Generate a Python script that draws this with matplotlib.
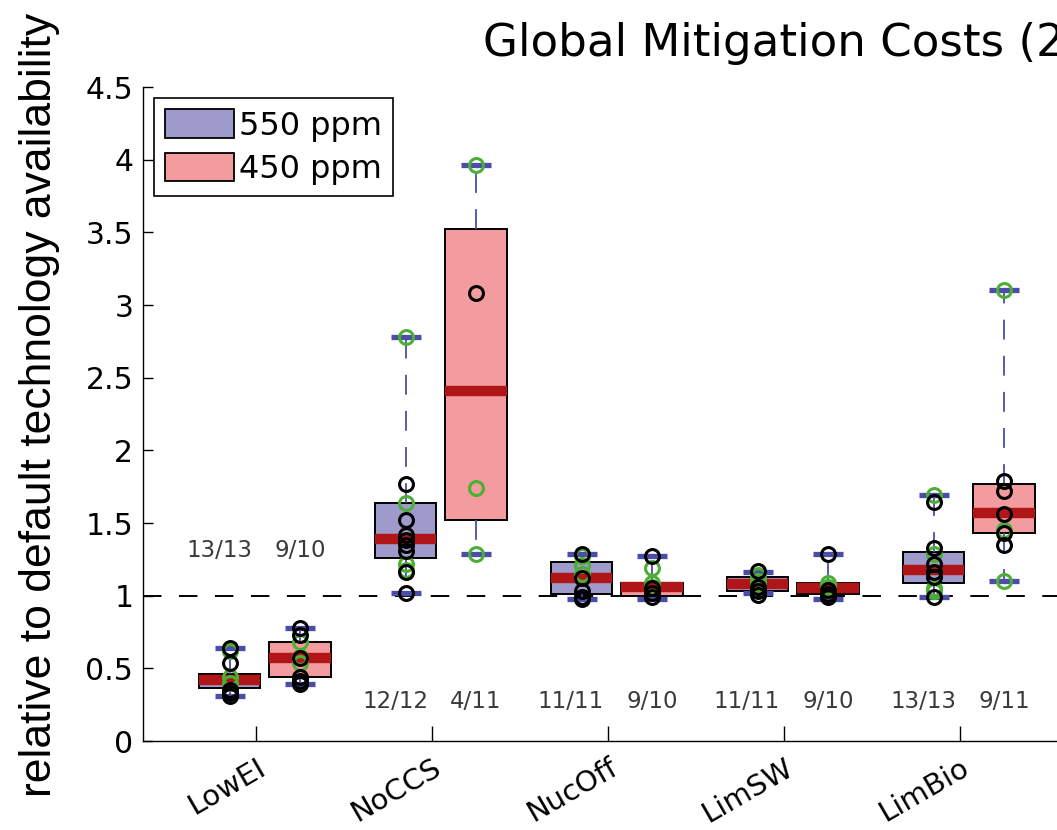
import matplotlib
matplotlib.use('Agg')
import numpy as np
import matplotlib.pyplot as plt
from matplotlib.patches import Patch

# categorias e estatisticas das caixas
cenarios = ['LowEI', 'NoCCS', 'NucOff', 'LimSW', 'LimBio']

q1_550 = [0.365, 1.26, 1.01, 1.035, 1.09]
med_550 = [0.42, 1.39, 1.12, 1.08, 1.18]
q3_550 = [0.46, 1.64, 1.23, 1.13, 1.30]
lo_550 = [0.31, 1.02, 0.975, 1.02, 0.99]
hi_550 = [0.64, 2.78, 1.29, 1.165, 1.69]

q1_450 = [0.44, 1.52, 1.00, 1.01, 1.43]
med_450 = [0.57, 2.41, 1.06, 1.05, 1.57]
q3_450 = [0.68, 3.52, 1.09, 1.09, 1.77]
lo_450 = [0.39, 1.29, 0.975, 0.975, 1.10]
hi_450 = [0.78, 3.96, 1.27, 1.29, 3.10]

# pontos individuais dos modelos (pretos e verdes)
pretos_550 = [[0.64, 0.535, 0.35, 0.33, 0.31],
              [1.77, 1.52, 1.42, 1.38, 1.35, 1.31, 1.165, 1.02],
              [1.29, 1.12, 1.03, 0.99, 0.975],
              [1.17, 1.06, 1.03, 1.005],
              [1.645, 1.33, 1.22, 1.16, 1.13, 0.99]]
verdes_550 = [[0.62, 0.44, 0.40],
              [2.78, 1.64, 1.22, 1.18],
              [1.27, 1.21, 1.15],
              [1.14, 1.10, 1.08],
              [1.69, 1.29, 1.05, 1.035]]
pretos_450 = [[0.78, 0.73, 0.57, 0.44, 0.41, 0.39],
              [3.08],
              [1.27, 1.05, 1.02, 0.99],
              [1.29, 1.04, 1.01, 0.99],
              [1.79, 1.72, 1.56, 1.43, 1.35]]
verdes_450 = [[0.68, 0.58, 0.54],
              [3.96, 1.74, 1.29],
              [1.19, 1.085, 1.06],
              [1.085, 1.06],
              [3.10, 1.45, 1.10]]

contagem_550 = ['13/13', '12/12', '11/11', '11/11', '13/13']
contagem_450 = ['9/10', '4/11', '9/10', '9/10', '9/11']
altura_contagem = [1.31, 0.27, 0.27, 0.27, 0.27]

yticks = [0, 0.5, 1, 1.5, 2, 2.5, 3, 3.5, 4, 4.5]
ytick_labels = ['0', '0.5', '1', '1.5', '2', '2.5', '3', '3.5', '4', '4.5']

azul_caixa = '#9e9bcc'
vermelho_caixa = '#f39c9f'
mediana = '#b01518'
azul_bigode = '#4b4ea8'
verde = '#4cae32'

fig = plt.figure(figsize=(10.57, 8.30), dpi=100)
ax = fig.add_axes([143/1057, 89/830, 1 - 143/1057, 654/830])

x = np.arange(1, len(cenarios) + 1)
pos_550 = x - 0.15
pos_450 = x + 0.25


def monta_stats(q1, med, q3, lo, hi):
    return [dict(q1=a, med=b, q3=c, whislo=d, whishi=e, fliers=[])
            for a, b, c, d, e in zip(q1, med, q3, lo, hi)]


for stats, pos, cor in [(monta_stats(q1_550, med_550, q3_550, lo_550, hi_550), pos_550, azul_caixa),
                        (monta_stats(q1_450, med_450, q3_450, lo_450, hi_450), pos_450, vermelho_caixa)]:
    ax.bxp(stats, positions=pos, widths=0.35, capwidths=0.17, patch_artist=True,
           showfliers=False, manage_ticks=False,
           boxprops=dict(facecolor=cor, edgecolor='black', linewidth=1.4),
           medianprops=dict(color=mediana, linewidth=7.5, solid_capstyle='butt'),
           whiskerprops=dict(color=azul_bigode, linewidth=1.3, linestyle=(0, (11, 9))),
           capprops=dict(color=azul_bigode, linewidth=3.8, solid_capstyle='butt'),
           zorder=2)

# linha de referencia em 1
ax.axhline(1, color='black', linewidth=1.4, linestyle=(0, (9.5, 9)), zorder=1)

for i in range(len(cenarios)):
    ax.plot([pos_550[i]] * len(verdes_550[i]), verdes_550[i], 'o', mfc='none', mec=verde, ms=10, mew=2.2, zorder=4)
    ax.plot([pos_550[i]] * len(pretos_550[i]), pretos_550[i], 'o', mfc='none', mec='black', ms=10, mew=2.2, zorder=4)
    ax.plot([pos_450[i]] * len(verdes_450[i]), verdes_450[i], 'o', mfc='none', mec=verde, ms=10, mew=2.2, zorder=4)
    ax.plot([pos_450[i]] * len(pretos_450[i]), pretos_450[i], 'o', mfc='none', mec='black', ms=10, mew=2.2, zorder=4)
    ax.text(x[i] - 0.21, altura_contagem[i], contagem_550[i], ha='center', va='center',
            fontsize=16.5, color='#3a3a3a')
    ax.text(x[i] + 0.25, altura_contagem[i], contagem_450[i], ha='center', va='center',
            fontsize=16.5, color='#3a3a3a')

ax.set_xlim(1 - 113/176, 1 + 801/176)
ax.set_ylim(0, 4.5)
ax.set_xticks(x)
ax.set_xticklabels(cenarios, rotation=30, ha='right', va='top', rotation_mode='anchor', fontsize=21)
ax.set_yticks(yticks)
ax.set_yticklabels(ytick_labels, fontsize=21.5)
ax.tick_params(axis='x', direction='in', length=11, width=1, pad=9)
ax.tick_params(axis='y', direction='in', length=7, width=1, pad=7)
ax.spines['top'].set_visible(False)
ax.spines['right'].set_visible(False)
for s in ['left', 'bottom']:
    ax.spines[s].set_linewidth(1.0)

fig.text(40/1057, 1 - 405/830, 'relative to default technology availability', rotation=90,
         ha='center', va='center', fontsize=32, family='Liberation Sans')
fig.text(483/1057, 1 - 56/830, 'Global Mitigation Costs (2020-2100)', ha='left', va='baseline',
         fontsize=32.5)

handles = [Patch(facecolor=azul_caixa, edgecolor='black', linewidth=1.3, label='550 ppm'),
           Patch(facecolor=vermelho_caixa, edgecolor='black', linewidth=1.3, label='450 ppm')]
leg = ax.legend(handles=handles, loc='upper left', fontsize=23, handlelength=2.15, handleheight=1.0,
                handletextpad=0.15, labelspacing=0.35, borderpad=0.35, borderaxespad=0.35,
                fancybox=False, framealpha=1)
leg.get_frame().set_edgecolor('black')
leg.get_frame().set_linewidth(1.2)

plt.savefig('out.png', dpi=100)
plt.close()
